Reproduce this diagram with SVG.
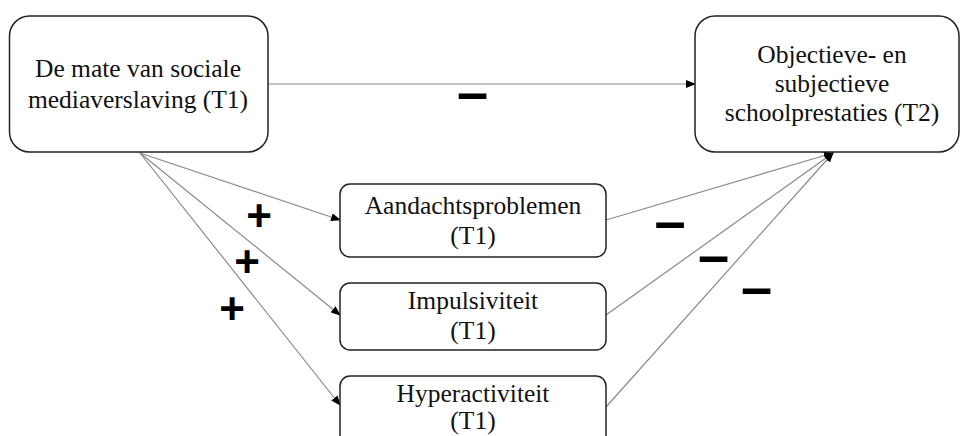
<svg xmlns="http://www.w3.org/2000/svg" width="961" height="436" viewBox="0 0 961 436">
<style>
.box{fill:#fff;stroke:#222;stroke-width:1.5}
.t{font-family:"Liberation Serif","Times New Roman",serif;font-size:25.5px;fill:#111;text-anchor:middle}
.c{stroke:#8a8a8a;stroke-width:1.2;fill:none;marker-end:url(#ah)}
.s{font-family:"Liberation Sans",Arial,sans-serif;font-weight:bold;fill:#000;text-anchor:middle}
</style>
<defs>
<marker id="ah" markerWidth="10" markerHeight="8" refX="9" refY="4" orient="auto" markerUnits="userSpaceOnUse">
<path d="M0,0 L10,4 L0,8 Z" fill="#000"/>
</marker>
</defs>
<rect width="961" height="436" fill="#fff"/>
<g id="connectors">
<line class="c" x1="268" y1="84" x2="695" y2="84"/>
<line class="c" x1="140" y1="153" x2="340" y2="220"/>
<line class="c" x1="140" y1="153" x2="340" y2="315"/>
<line class="c" x1="140" y1="153" x2="340" y2="405"/>
<line class="c" x1="606" y1="220" x2="833" y2="153"/>
<line class="c" x1="606" y1="315" x2="833" y2="153"/>
<line class="c" x1="606" y1="407" x2="833" y2="153"/>
</g>
<g id="signs">
<text class="s" x="472.5" y="111" font-size="56">–</text>
<text class="s" x="259" y="231" font-size="44">+</text>
<text class="s" x="247" y="277" font-size="44">+</text>
<text class="s" x="232" y="324" font-size="44">+</text>
<text class="s" x="670" y="240" font-size="56">–</text>
<text class="s" x="713.5" y="274" font-size="56">–</text>
<text class="s" x="756.5" y="306" font-size="56">–</text>
</g>
<g id="node-source">
<rect class="box" x="9.5" y="16" width="258.5" height="136" rx="20"/>
<text class="t" x="138" y="77">De mate van sociale</text>
<text class="t" x="138" y="108">mediaverslaving (T1)</text>
</g>
<g id="node-outcome">
<rect class="box" x="695" y="16" width="264" height="136" rx="20"/>
<text class="t" x="832" y="63">Objectieve- en</text>
<text class="t" x="832" y="92">subjectieve</text>
<text class="t" x="832" y="121">schoolprestaties (T2)</text>
</g>
<g id="node-aandacht">
<rect class="box" x="340" y="184" width="266" height="73" rx="10"/>
<text class="t" x="473" y="214">Aandachtsproblemen</text>
<text class="t" x="473" y="244">(T1)</text>
</g>
<g id="node-impuls">
<rect class="box" x="340" y="283" width="266" height="67" rx="10"/>
<text class="t" x="473" y="309">Impulsiviteit</text>
<text class="t" x="473" y="339">(T1)</text>
</g>
<g id="node-hyper">
<rect class="box" x="340" y="376" width="266" height="80" rx="10"/>
<text class="t" x="473" y="402">Hyperactiviteit</text>
<text class="t" x="473" y="429">(T1)</text>
</g>
</svg>
